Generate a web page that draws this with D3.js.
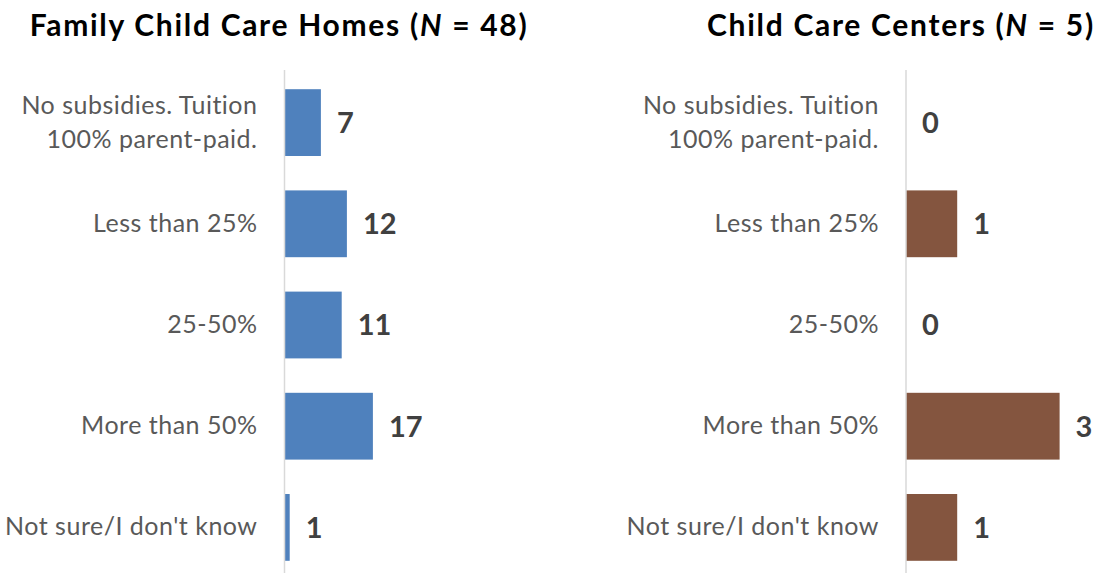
<!DOCTYPE html>
<html>
<head>
<meta charset="utf-8">
<script src="https://cdn.jsdelivr.net/npm/d3@7"></script>
<style>
  html, body { margin: 0; padding: 0; background: #fff; }
  svg { display: block; font-family: Lato, "Open Sans", sans-serif; }
</style>
</head>
<body>
<svg id="chart" width="1100" height="573"></svg>
<script>
// Share of enrolled children whose tuition is subsidized
const categories = [
  "No subsidies. Tuition 100% parent-paid.",
  "Less than 25%",
  "25-50%",
  "More than 50%",
  "Not sure/I don't know"
];
const homesValues = [7, 12, 11, 17, 1];
const centersValues = [0, 1, 0, 3, 1];

// Two-line wrapping for the long category
const labelLines = {
  "No subsidies. Tuition 100% parent-paid.": ["No subsidies. Tuition", "100% parent-paid."]
};

const svg = d3.select("#chart");

const panels = [
  { title: "Family Child Care Homes (", n: "48", values: homesValues, color: "#4F81BD",
    axisX: 284.5, xMax: 20, xWidth: 104, titleX: 279 },
  { title: "Child Care Centers (", n: "5", values: centersValues, color: "#84553F",
    axisX: 906, xMax: 4, xWidth: 204.8, titleX: 901 }
];

const y = d3.scaleBand()
  .domain(categories)
  .range([72, 578])
  .paddingInner(0.34)
  .paddingOuter(0.17);

panels.forEach(p => {
  const x = d3.scaleLinear().domain([0, p.xMax]).range([p.axisX, p.axisX + p.xWidth]);
  const g = svg.append("g");

  // Title with italic N
  const t = g.append("text")
    .attr("x", p.titleX)
    .attr("y", 36)
    .attr("text-anchor", "middle")
    .attr("font-size", 30)
    .attr("letter-spacing", 1.7)
    .attr("font-weight", "bold")
    .attr("fill", "#000");
  t.append("tspan").text(p.title);
  t.append("tspan").attr("font-style", "italic").text("N");
  t.append("tspan").text(" = " + p.n + ")");

  // Bars
  g.selectAll("rect.bar")
    .data(p.values)
    .join("rect")
    .attr("class", "bar")
    .attr("x", x(0))
    .attr("y", (d, i) => y(categories[i]))
    .attr("width", d => x(d) - x(0))
    .attr("height", y.bandwidth())
    .attr("fill", p.color);

  // Category axis
  const axis = g.append("g")
    .attr("transform", `translate(${x(0)},0)`)
    .call(d3.axisLeft(y).tickSize(0).tickSizeOuter(0).tickPadding(27));
  axis.select(".domain").attr("stroke", "#d9d9d9").attr("stroke-width", 1.5)
    .attr("d", `M0,70V573`);
  axis.selectAll(".tick text")
    .attr("font-size", 25)
    .attr("letter-spacing", 0.5)
    .attr("font-family", "Lato, 'Open Sans', sans-serif")
    .attr("fill", "#595959")
    .each(function(d) {
      const lines = labelLines[d];
      if (!lines) return;
      const el = d3.select(this).text(null).attr("dy", null);
      lines.forEach((ln, k) => {
        el.append("tspan")
          .attr("x", -27)
          .attr("dy", k === 0 ? "-0.35em" : "1.36em")
          .text(ln);
      });
    });

  // Value labels
  g.selectAll("text.val")
    .data(p.values)
    .join("text")
    .attr("class", "val")
    .attr("x", d => x(d) + 16)
    .attr("y", (d, i) => y(categories[i]) + y.bandwidth() / 2)
    .attr("dy", "0.36em")
    .attr("font-size", 29)
    .attr("font-weight", "bold")
    .attr("fill", "#404040")
    .text(d => d);
});
</script>
</body>
</html>
